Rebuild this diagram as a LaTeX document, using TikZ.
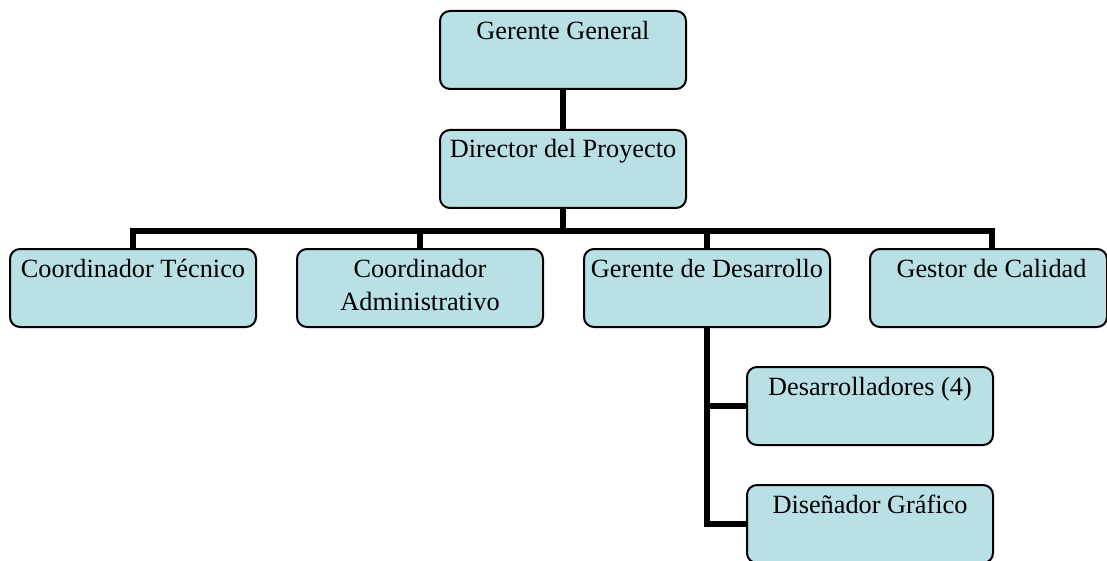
\documentclass[tikz,border=0pt]{standalone}
\usepackage{fontspec}
\setmainfont{Liberation Serif}
\definecolor{boxfill}{RGB}{185,224,228}
\begin{document}
\begin{tikzpicture}[x=1pt,y=-1pt,
  orgbox/.style={draw=black, line width=2pt, fill=boxfill, rounded corners=10pt,
    inner sep=0pt, anchor=north west, minimum width=246pt, minimum height=78pt},
  title/.style={anchor=base, inner sep=0pt, align=center,
    font=\fontsize{26.3}{33}\selectfont},
  link/.style={draw=black, line width=6pt, line join=miter}
]
\useasboundingbox (0,0) rectangle (1107,561);

% boxes
\node[orgbox] (gg)  at (439,10)  {};
\node[orgbox] (dp)  at (439,129) {};
\node[orgbox] (ct)  at (9,248)   {};
\node[orgbox] (ca)  at (296,248) {};
\node[orgbox] (gd)  at (583,248) {};
\node[orgbox, minimum width=237pt] (gc) at (869,248) {};
\node[orgbox] (des) at (746,366) {};
\node[orgbox] (dis) at (746,484) {};

% labels (a two-line label sits on the baseline of its last line)
\node[title] (tgg)  at ([yshift=-30pt]gg.north)  {Gerente General};
\node[title] (tdp)  at ([yshift=-29pt]dp.north)  {Director del Proyecto};
\node[title] (tct)  at ([yshift=-29pt]ct.north)  {Coordinador Técnico};
\node[title] (tca)  at ([yshift=-62pt]ca.north)  {Coordinador\\Administrativo};
\node[title] (tgd)  at ([yshift=-29pt]gd.north)  {Gerente de Desarrollo};
\node[title] (tgc)  at ([xshift=3pt,yshift=-29pt]gc.north)  {Gestor de Calidad};
\node[title] (tdes) at ([yshift=-29pt]des.north) {Desarrolladores (4)};
\node[title] (tdis) at ([yshift=-29pt]dis.north) {Diseñador Gráfico};

% connectors
\coordinate (busR) at (992,231);
\coordinate (gcTop) at (992,248);
\draw[link] (gg.south) -- (dp.north);
\draw[link] (dp.south) -- (dp.south |- busR);
\draw[link] (ct.north) |- (busR) -- (gcTop);
\draw[link] (ca.north) -- (ca.north |- busR);
\draw[link] (gd.north) -- (gd.north |- busR);
\draw[link] (gd.south) |- (dis.west);
\draw[link] (gd.south |- des.west) -- (des.west);
\end{tikzpicture}
\end{document}
